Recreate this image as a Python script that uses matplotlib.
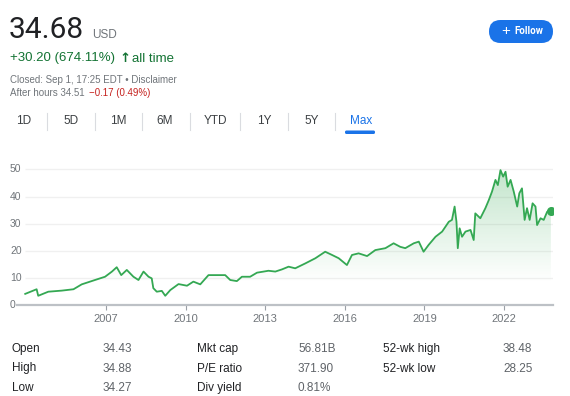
"""Stock price card (max range) redrawn with matplotlib."""
import matplotlib
matplotlib.use("Agg")
import matplotlib.pyplot as plt
import numpy as np
from matplotlib.colors import LinearSegmentedColormap
from matplotlib.patches import FancyBboxPatch

plt.rcParams["font.family"] = ["Liberation Sans", "DejaVu Sans"]

# price history (decimal year, USD)
years = [2003.95, 2004.38, 2004.44, 2004.82, 2005.33, 2005.77, 2006.08, 2006.58,
         2006.96, 2007.22, 2007.40, 2007.57, 2007.78, 2008.03, 2008.22, 2008.41,
         2008.60, 2008.72, 2008.78, 2008.91, 2009.10, 2009.23, 2009.42, 2009.73,
         2010.05, 2010.29, 2010.55, 2010.86, 2011.18, 2011.49, 2011.68, 2011.93,
         2012.12, 2012.43, 2012.69, 2012.94, 2013.12, 2013.38, 2013.63, 2013.88,
         2014.13, 2014.51, 2014.89, 2015.26, 2015.52, 2015.77, 2016.08, 2016.27,
         2016.52, 2016.84, 2017.15, 2017.53, 2017.84, 2018.09, 2018.28, 2018.60,
         2018.79, 2018.97, 2019.16, 2019.42, 2019.67, 2019.92, 2020.04, 2020.14,
         2020.21, 2020.26, 2020.33, 2020.42, 2020.55, 2020.74, 2020.86, 2020.92,
         2021.11, 2021.30, 2021.43, 2021.55, 2021.68, 2021.77, 2021.87, 2021.97,
         2022.06, 2022.14, 2022.25, 2022.37, 2022.50, 2022.58, 2022.68, 2022.78,
         2022.87, 2022.97, 2023.08, 2023.19, 2023.25, 2023.38, 2023.50, 2023.63,
         2023.73, 2023.77]
prices = [4.2, 5.9, 3.5, 5.0, 5.4, 5.9, 7.7, 9.3,
          10.5, 12.4, 14.0, 11.1, 13.0, 10.5, 9.3, 12.4,
          10.5, 9.9, 6.3, 5.0, 5.3, 3.5, 5.6, 7.8,
          7.2, 8.7, 7.7, 11.1, 11.1, 11.1, 9.3, 8.9,
          10.5, 10.5, 12.0, 12.4, 12.7, 12.4, 13.2, 14.2,
          13.6, 15.4, 17.3, 19.7, 18.5, 17.3, 14.8, 18.5,
          19.1, 18.1, 20.3, 21.0, 22.8, 21.5, 21.0, 22.8,
          23.4, 19.7, 22.2, 25.2, 27.1, 30.7, 31.4, 36.3,
          30.7, 21.0, 28.3, 25.2, 27.1, 27.7, 24.0, 33.8,
          32.0, 35.7, 38.7, 41.8, 46.1, 44.2, 49.7, 47.3,
          49.1, 43.6, 46.1, 41.8, 36.3, 41.2, 43.0, 31.4,
          35.7, 31.4, 37.5, 36.3, 29.5, 32.0, 31.4, 34.4,
          35.0, 34.68]

x_ticks = [2007, 2010, 2013, 2016, 2019, 2022]
y_ticks = [0, 10, 20, 30, 40, 50]

tabs = ["1D", "5D", "1M", "6M", "YTD", "1Y", "5Y", "Max"]
stat_labels = [["Open", "High", "Low"],
               ["Mkt cap", "P/E ratio", "Div yield"],
               ["52-wk high", "52-wk low"]]
stat_values = [["34.43", "34.88", "34.27"],
               ["56.81B", "371.90", "0.81%"],
               ["38.48", "28.25"]]

GREEN = "#34a853"
GRAY = "#70757a"
DARK = "#202124"
BLUE = "#1a73e8"

fig = plt.figure(figsize=(5.7, 3.96), dpi=100)

# overlay in pixel coordinates (y down) for the card text
bg = fig.add_axes([0, 0, 1, 1])
bg.set_xlim(0, 570)
bg.set_ylim(396, 0)
bg.axis("off")

bg.text(9, 37.5, "34.68", fontsize=21.5, color=DARK, family="Roboto", va="baseline")
bg.text(92, 37.5, "USD", fontsize=8.5, color=GRAY, va="baseline")

bg.text(10, 61.5, "+30.20 (674.11%)", fontsize=9.5, color="#137333", va="baseline")
bg.text(119, 61.5, "\u2191", fontsize=9.5, color="#137333", va="baseline",
        family="DejaVu Sans", fontweight="bold")
bg.text(132, 61.5, "all time", fontsize=9.5, color="#137333", va="baseline")

bg.text(10, 80, "Closed: Sep 1, 17:25 EDT \u2022 Disclaimer", fontsize=7, color=GRAY, va="center")
bg.text(10, 93, "After hours 34.51", fontsize=7, color=GRAY, va="center")
bg.text(89, 93, "\u22120.17 (0.49%)", fontsize=7, color="#c5221f", va="center")

# follow button
bg.add_patch(FancyBboxPatch((489, 20), 64, 23, boxstyle="round,pad=0,rounding_size=11.5",
                            fc=BLUE, ec="none"))
bg.text(506, 31.5, "+", fontsize=11, color="white", ha="center", va="center")
bg.text(514, 31.5, "Follow", fontsize=7, color="white", family="Roboto",
        fontweight="bold", va="center")

# range tabs
tab_x = [24, 71, 118, 165, 215, 264, 312, 361]
sep_x = [47, 95, 142, 190, 240, 288, 335]
for label, x in zip(tabs, tab_x):
    bg.text(x, 121.5, label, fontsize=8.5, color=BLUE if label == "Max" else "#3c4043",
            ha="center", va="center")
for x in sep_x:
    bg.plot([x, x], [113, 130], color="#dadce0", lw=0.8)
bg.add_patch(FancyBboxPatch((345, 130.5), 30, 3.5, boxstyle="round,pad=0,rounding_size=1.5",
                            fc=BLUE, ec="none"))

# stats table
col_label_x = [12, 197, 383]
col_value_x = [103, 298, 503]
row_y = [349, 368.5, 388]
for labels, values, lx, vx in zip(stat_labels, stat_values, col_label_x, col_value_x):
    for i, (lab, val) in enumerate(zip(labels, values)):
        bg.text(lx, row_y[i], lab, fontsize=8.5, color=DARK, va="center")
        bg.text(vx, row_y[i], val, fontsize=8.5, color="#5f6368", va="center")

# price chart
ax = fig.add_axes([17 / 570, 90.7 / 396, 536 / 570, 149.6 / 396])
x_min, x_max = 2003.64, 2023.85
y_max = 55

for v in y_ticks[1:]:
    ax.hlines(v, 2003.94, x_max, color="#f0f0f0", lw=1, zorder=0)

fill = ax.fill_between(years, prices, 0, color="none")
grad = np.linspace(0, y_max, 256).reshape(-1, 1)
cmap = LinearSegmentedColormap.from_list(
    "fade", [(0.204, 0.659, 0.325, 0.0), (0.204, 0.659, 0.325, 0.30)])
im = ax.imshow(grad, extent=[x_min, x_max, 0, y_max], origin="lower", aspect="auto",
               cmap=cmap, vmin=8, vmax=50, zorder=1)
im.set_clip_path(fill.get_paths()[0], ax.transData)

ax.plot(years, prices, color=GREEN, lw=1.3, zorder=3)
ax.plot(years[-1], prices[-1], "o", color=GREEN, ms=5.5, zorder=4)

ax.set_xlim(x_min, x_max)
ax.set_ylim(0, y_max)
for side in ["top", "right", "left"]:
    ax.spines[side].set_visible(False)
ax.spines["bottom"].set_color("#bdc1c6")
ax.spines["bottom"].set_linewidth(1.6)
ax.set_facecolor("none")

ax.set_xticks(x_ticks)
ax.set_xticklabels([str(y) for y in x_ticks])
ax.tick_params(axis="x", length=3.5, width=0.8, color="#9aa0a6", pad=2.5,
               labelsize=8, labelcolor=GRAY)
ax.set_yticks([])
for v in y_ticks:
    ax.text(-0.013, v, str(v), transform=ax.get_yaxis_transform(), fontsize=7.5,
            color=GRAY, ha="left", va="center")

fig.savefig("out.png", dpi=100)
